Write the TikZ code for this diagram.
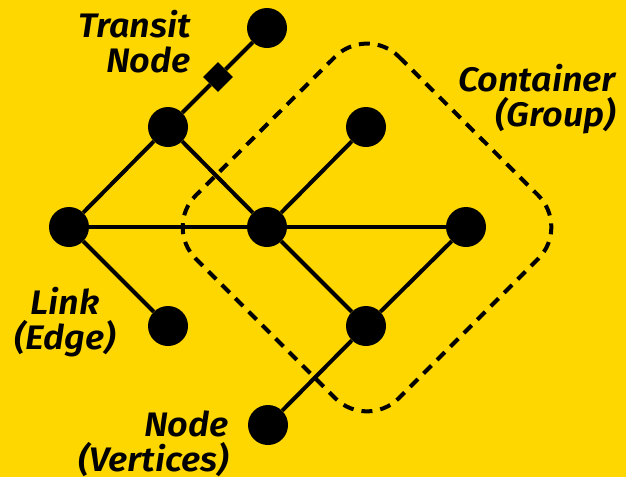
\documentclass[tikz,border=0pt]{standalone}
\usepackage{fontspec}
\setmainfont{Fira Sans}
\newfontfamily\capfont{Fira Sans}[UprightFont=* SemiBold, ItalicFont=* SemiBold Italic, FakeStretch=1.06]
\definecolor{bgyellow}{RGB}{255,215,0}
\tikzset{
  vertex/.style={circle, fill=black, minimum size=40pt, inner sep=0pt},
  transit/.style={rectangle, fill=black, minimum size=21pt, inner sep=0pt, rotate=45},
  link/.style={line width=4pt, black},
  group/.style={line width=4pt, black, dash pattern=on 11pt off 8pt, rounded corners=45pt},
  caption/.style={inner sep=0pt, font={\fontsize{34}{35}\selectfont\capfont\itshape}}
}
\begin{document}
\begin{tikzpicture}[x=1pt, y=-1pt]
  \fill[bgyellow] (0,0) rectangle (626,477);
  \useasboundingbox (0,0) rectangle (626,477);

  % dashed group outline
  \draw[group] (367,25) -- (570,227) -- (367,430) -- (164,227) -- cycle;

  % vertices
  \node[vertex] (top) at (267,28) {};
  \node[transit] (tr) at (218,77) {};
  \node[vertex] (a) at (168,127) {};
  \node[vertex] (c) at (366,127) {};
  \node[vertex] (l) at (69,227) {};
  \node[vertex] (m) at (267,227) {};
  \node[vertex] (r) at (466,227) {};
  \node[vertex] (b1) at (168,326) {};
  \node[vertex] (b2) at (366,326) {};
  \node[vertex] (bot) at (268,425) {};

  % links
  \draw[link] (top) -- (tr) -- (a);
  \draw[link] (a) -- (l);
  \draw[link] (a) -- (m);
  \draw[link] (l) -- (m);
  \draw[link] (m) -- (r);
  \draw[link] (l) -- (b1);
  \draw[link] (m) -- (c);
  \draw[link] (m) -- (b2);
  \draw[link] (r) -- (b2);
  \draw[link] (b2) -- (bot);

  % labels
  \node[caption, align=right, anchor=north east] (lt) at (191,10) {Transit\\Node};
  \node[caption, align=right, anchor=north east] (lg) at (616,64) {Container\\(Group)};
  \node[caption, align=center, anchor=north] (le) at (65,287) {Link\\(Edge)};
  \node[caption, align=right, anchor=north east] (lv) at (229,411) {Node\\(Vertices)};
\end{tikzpicture}
\end{document}
